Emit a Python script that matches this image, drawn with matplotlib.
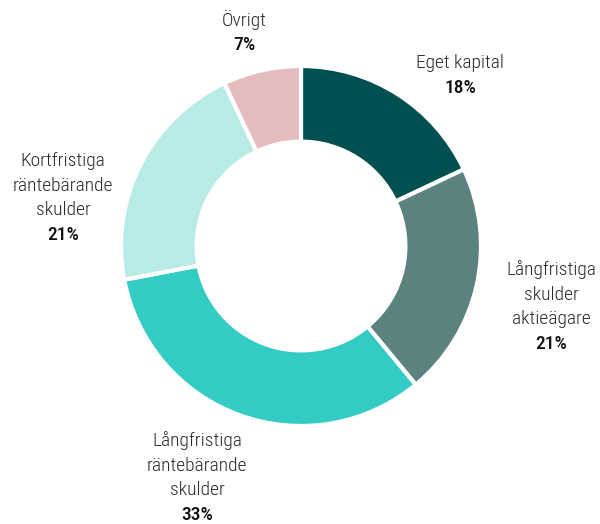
import matplotlib
matplotlib.use("Agg")
from matplotlib import pyplot as plt
from matplotlib import font_manager

# data
categories = ["Eget kapital", "Långfristiga\nskulder\naktieägare", "Långfristiga\nräntebärande\nskulder",
              "Kortfristiga\nräntebärande\nskulder", "Övrigt"]
shares = [18, 21, 33, 21, 7]
colors = ["#005052", "#5b827f", "#33ccc5", "#b9ebe6", "#e5bcbd"]

# label anchor (pixel x, pixel y of first line), layout only
label_pos = [(460, 63), (551, 270), (197, 441), (63, 161), (244, 20)]

names = set(f.name for f in font_manager.fontManager.ttflist)
family = ["Roboto Condensed", "Liberation Sans Narrow", "Roboto", "DejaVu Sans"]
family = [f for f in family if f in names]

W, H = 600, 524
fig = plt.figure(figsize=(W / 100, H / 100), dpi=100)
cx, cy, R = 301, 246, 180
ax = fig.add_axes([(cx - R) / W, (H - cy - R) / H, 2 * R / W, 2 * R / H])
ax.pie(shares, colors=colors, startangle=90, counterclock=False, radius=1,
       wedgeprops=dict(width=0.42, edgecolor="white", linewidth=3))
ax.set_xlim(-1, 1)
ax.set_ylim(-1, 1)
ax.axis("off")

step = 24.6
for name, val, (px, py) in zip(categories, shares, label_pos):
    lines = name.split("\n")
    for i, ln in enumerate(lines):
        fig.text(px / W, 1 - (py + i * step) / H, ln, ha="center", va="center",
                 fontsize=14, family=family, fontweight="light", color="#2a2a2a")
    fig.text(px / W, 1 - (py + len(lines) * step) / H, f"{val}%", ha="center", va="center",
             fontsize=14, family=family, fontweight="medium", color="#111111")

plt.savefig("out.png", dpi=100)
